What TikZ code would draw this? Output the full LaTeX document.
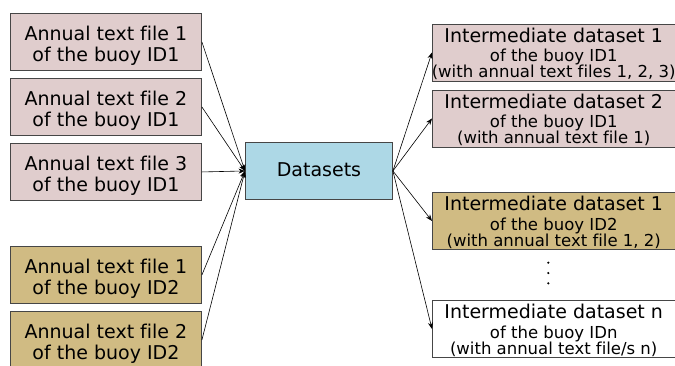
\documentclass[tikz,border=0pt]{standalone}
\usepackage{fontspec}
\setmainfont[Ligatures=NoCommon]{DejaVu Sans}
\usetikzlibrary{arrows.meta}
\definecolor{pinkfill}{RGB}{224,205,205}
\definecolor{tanfill}{RGB}{208,187,131}
\definecolor{bluefill}{RGB}{173,216,230}
\definecolor{edgegray}{RGB}{70,70,70}
\begin{document}
\begin{tikzpicture}[x=1pt,y=-1pt,
  box/.style={draw=edgegray, line width=0.9pt, inner sep=0, anchor=north west},
  leftbox/.style={box, minimum width=191pt, minimum height=57pt},
  rightbox/.style={box, minimum width=242.5pt, minimum height=57pt},
  bigtxt/.style={font=\fontsize{19}{21}\selectfont, inner sep=0, anchor=base},
  smalltxt/.style={font=\fontsize{16.5}{18}\selectfont, inner sep=0, anchor=base},
  arr/.style={-{Stealth[length=6.5pt,width=5pt]}, line width=0.6pt}]
\useasboundingbox (0,0) rectangle (675,365);

% left boxes
\node[leftbox, fill=pinkfill] (l1) at (10,13) {};
\node[leftbox, fill=pinkfill] (l2) at (10,78) {};
\node[leftbox, fill=pinkfill] (l3) at (10,143) {};
\node[leftbox, fill=tanfill] (l4) at (10,246) {};
\node[leftbox, fill=tanfill] (l5) at (10,311) {};

\node[bigtxt] (l1a) at ([yshift=-27.5pt]l1.north) {Annual text file 1};
\node[bigtxt] (l1b) at ([yshift=-48pt]l1.north) {of the buoy ID1};
\node[bigtxt] (l2a) at ([yshift=-27.5pt]l2.north) {Annual text file 2};
\node[bigtxt] (l2b) at ([yshift=-48pt]l2.north) {of the buoy ID1};
\node[bigtxt] (l3a) at ([yshift=-27.5pt]l3.north) {Annual text file 3};
\node[bigtxt] (l3b) at ([yshift=-48pt]l3.north) {of the buoy ID1};
\node[bigtxt] (l4a) at ([yshift=-27.5pt]l4.north) {Annual text file 1};
\node[bigtxt] (l4b) at ([yshift=-48pt]l4.north) {of the buoy ID2};
\node[bigtxt] (l5a) at ([yshift=-27.5pt]l5.north) {Annual text file 2};
\node[bigtxt] (l5b) at ([yshift=-48pt]l5.north) {of the buoy ID2};

% central box
\node[box, fill=bluefill, minimum width=147pt, minimum height=57pt] (d) at (245,142) {};
\node[bigtxt] (dt) at ([yshift=-6pt]d.center) {Datasets};

% right boxes
\node[rightbox, fill=pinkfill] (r1) at (432,23.5) {};
\node[rightbox, fill=pinkfill] (r2) at (432,89.5) {};
\node[rightbox, fill=tanfill] (r3) at (432,192) {};
\node[rightbox, fill=white] (rn) at (432,300) {};

\node[bigtxt] (r1a) at ([yshift=-18.5pt]r1.north) {Intermediate dataset 1};
\node[smalltxt] (r1b) at ([yshift=-38pt]r1.north) {of the buoy ID1};
\node[smalltxt] (r1c) at ([yshift=-54pt]r1.north) {(with annual text files 1, 2, 3)};
\node[bigtxt] (r2a) at ([yshift=-18.5pt]r2.north) {Intermediate dataset 2};
\node[smalltxt] (r2b) at ([yshift=-38pt]r2.north) {of the buoy ID1};
\node[smalltxt] (r2c) at ([yshift=-54pt]r2.north) {(with annual text file 1)};
\node[bigtxt] (r3a) at ([yshift=-18.5pt]r3.north) {Intermediate dataset 1};
\node[smalltxt] (r3b) at ([yshift=-38pt]r3.north) {of the buoy ID2};
\node[smalltxt] (r3c) at ([yshift=-54pt]r3.north) {(with annual text file 1, 2)};
\node[bigtxt] (rna) at ([yshift=-18.5pt]rn.north) {Intermediate dataset n};
\node[smalltxt] (rnb) at ([yshift=-38pt]rn.north) {of the buoy IDn};
\node[smalltxt] (rnc) at ([yshift=-54pt]rn.north) {(with annual text file/s n)};

% dots
\fill (548.3,262.7) circle (1.2);
\fill (548.3,273) circle (1.2);
\fill (548.3,283.3) circle (1.2);

% connectors
\foreach \s in {l1,l2,l3,l4,l5} \draw[arr] (\s.east) -- (d.west);
\foreach \t in {r1,r2,r3,rn} \draw[arr] (d.east) -- (\t.west);
\end{tikzpicture}
\end{document}
